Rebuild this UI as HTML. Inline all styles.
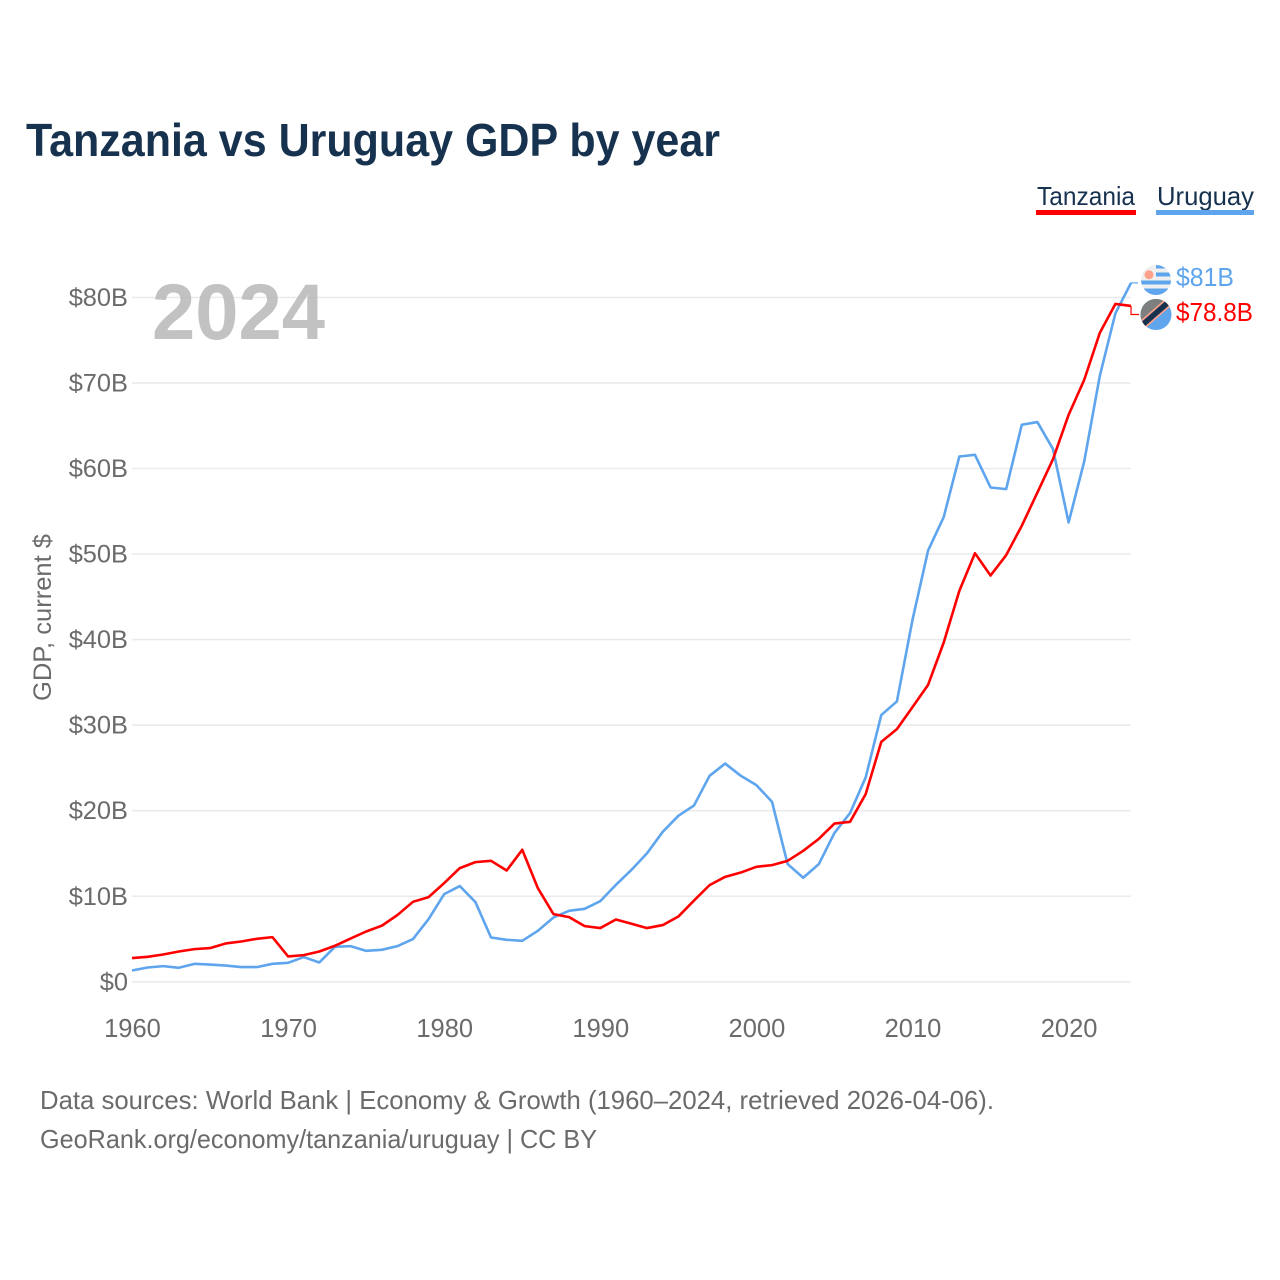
<!DOCTYPE html>
<html lang="en">
<head>
<meta charset="utf-8">
<title>Tanzania vs Uruguay GDP by year</title>
<style>
  html, body { margin: 0; padding: 0; background: #fff; }
  #chart { display: block; width: 1280px; height: 1280px; font-family: "Liberation Sans", sans-serif; }
</style>
</head>
<body>
<svg id="chart" xmlns="http://www.w3.org/2000/svg" width="1280" height="1280" viewBox="0 0 1280 1280">
  <defs>
    <clipPath id="clip-uy"><circle cx="1156" cy="280" r="15"/></clipPath>
    <clipPath id="clip-tz"><circle cx="1156" cy="314.5" r="15.5"/></clipPath>
  </defs>
  <rect x="0" y="0" width="1280" height="1280" fill="#ffffff"/>
  <text x="26" y="156" font-size="46" font-weight="700" fill="#17324f" textLength="694" lengthAdjust="spacingAndGlyphs">Tanzania vs Uruguay GDP by year</text>

  <g>
    <g>
      <text x="1037" y="205" font-size="26" fill="#17324f" textLength="98" lengthAdjust="spacingAndGlyphs">Tanzania</text>
      <rect x="1036" y="210" width="100" height="5" fill="#ff0000"/>
    </g>
    <g>
      <text x="1157" y="205" font-size="26" fill="#17324f" textLength="97" lengthAdjust="spacingAndGlyphs">Uruguay</text>
      <rect x="1156" y="210" width="98" height="5" fill="#5ea5ee"/>
    </g>
  </g>

  <g id="grid"></g>
  <text x="152" y="339" font-size="79" font-weight="700" fill="#b4b4b4" fill-opacity="0.82" textLength="173" lengthAdjust="spacingAndGlyphs">2024</text>
  <g id="y-axis"></g>
  <g id="x-axis"></g>
  <text transform="translate(51,701) rotate(-90)" x="0" y="0" font-size="25" fill="#6b6b6b" textLength="167" lengthAdjust="spacingAndGlyphs">GDP, current $</text>
  <g id="series"></g>

  <g clip-path="url(#clip-uy)">
    <rect x="1140" y="264" width="32" height="32" fill="#efefef"/>
    <rect x="1156" y="265" width="16" height="3.5" fill="#5ea5ee"/>
    <rect x="1156" y="272.5" width="16" height="4" fill="#5ea5ee"/>
    <rect x="1140" y="280.5" width="32" height="4" fill="#5ea5ee"/>
    <rect x="1140" y="288.5" width="32" height="7.5" fill="#5ea5ee"/>
    <circle cx="1149" cy="274.8" r="4.5" fill="#ffa08c"/>
  </g>
  <g clip-path="url(#clip-tz)">
    <rect x="1140" y="298" width="32" height="33" fill="#5ea5ee"/>
    <polygon points="1136,330.4 1176,295.6 1176,290 1136,290" fill="#7c7f7d"/>
    <line x1="1136" y1="330.4" x2="1176" y2="295.6" stroke="#ffa08c" stroke-width="9"/>
    <line x1="1136" y1="330.4" x2="1176" y2="295.6" stroke="#17324f" stroke-width="5.6"/>
  </g>

  <text x="1176" y="286" font-size="25.5" fill="#5ea5ee" textLength="58" lengthAdjust="spacingAndGlyphs">$81B</text>
  <text x="1176" y="321" font-size="25.5" fill="#ff0000" textLength="77" lengthAdjust="spacingAndGlyphs">$78.8B</text>

  <text x="40" y="1109" font-size="26" fill="#6b6b6b" textLength="954" lengthAdjust="spacingAndGlyphs">Data sources: World Bank | Economy &amp; Growth (1960–2024, retrieved 2026-04-06).</text>
  <text x="40" y="1148" font-size="26" fill="#6b6b6b" textLength="557" lengthAdjust="spacingAndGlyphs">GeoRank.org/economy/tanzania/uruguay | CC BY</text>
</svg>

<script>
const startYear = 1960;
const tanzaniaGdp = [
  2.77, 2.92, 3.19, 3.54, 3.82, 3.94, 4.48, 4.71, 5.03, 5.22,
  2.96, 3.12, 3.54, 4.21, 5.06, 5.88, 6.55, 7.8, 9.35, 9.9,
  11.54, 13.29, 13.99, 14.14, 13.01, 15.43, 10.95, 7.91, 7.56, 6.51,
  6.28, 7.28, 6.78, 6.28, 6.63, 7.63, 9.5, 11.3, 12.27, 12.77,
  13.44, 13.64, 14.14, 15.31, 16.71, 18.5, 18.7, 21.94, 28.05, 29.53,
  32.1, 34.71, 39.66, 45.7, 50.1, 47.49, 49.87, 53.3, 57.19, 61.09,
  66.27, 70.36, 75.85, 79.24, 79.0
];
const uruguayGdp = [
  1.32, 1.67, 1.83, 1.64, 2.1, 2.02, 1.9, 1.72, 1.72, 2.1,
  2.22, 2.89, 2.26, 4.09, 4.17, 3.62, 3.74, 4.17, 4.99, 7.33,
  10.25, 11.19, 9.32, 5.18, 4.91, 4.79, 5.96, 7.52, 8.3, 8.53,
  9.43, 11.34, 13.09, 15.04, 17.53, 19.4, 20.6, 24.08, 25.51, 24.08,
  22.99, 21.04, 13.76, 12.16, 13.76, 17.4, 19.73, 23.89, 31.18, 32.77,
  42.31, 50.42, 54.32, 61.4, 61.6, 57.78, 57.59, 65.11, 65.43, 62.27,
  53.69, 60.82, 70.83, 78.15, 81.7
];
const yTicks = [0, 10, 20, 30, 40, 50, 60, 70, 80];
const yTickLabels = ["$0", "$10B", "$20B", "$30B", "$40B", "$50B", "$60B", "$70B", "$80B"];
const xTicks = [1960, 1970, 1980, 1990, 2000, 2010, 2020];
const xTickLabels = ["1960", "1970", "1980", "1990", "2000", "2010", "2020"];

const NS = "http://www.w3.org/2000/svg";
function xScale(year) { return 132 + (year - 1960) * 15.61; }
function yScale(value) { return 981.8 - value * 8.555; }
function make(tag, attrs, parent) {
  const el = document.createElementNS(NS, tag);
  for (const k in attrs) el.setAttribute(k, attrs[k]);
  parent.appendChild(el);
  return el;
}

const gridGroup = document.getElementById("grid");
const yAxisGroup = document.getElementById("y-axis");
const xAxisGroup = document.getElementById("x-axis");
const seriesGroup = document.getElementById("series");

yTicks.forEach(function (tick, i) {
  const line = make("line", { x1: 132, x2: 1131, y1: yScale(tick), y2: yScale(tick), stroke: "#ebebeb", "stroke-width": 1.6 }, gridGroup);
  
  
  const label = make("text", { x: 128, y: yScale(tick) + 8.5, "text-anchor": "end", "font-size": 25.4, fill: "#6b6b6b" }, yAxisGroup);
  
  
  label.textContent = yTickLabels[i];
});

xTicks.forEach(function (tick, i) {
  const label = make("text", { x: xScale(tick) + 0.5, y: 1037, "text-anchor": "middle", "font-size": 25.5, fill: "#6b6b6b" }, xAxisGroup);
  
  
  label.textContent = xTickLabels[i];
});

function pointsFor(values) {
  return values.map(function (v, i) {
    return xScale(startYear + i).toFixed(2) + "," + yScale(v).toFixed(2);
  }).join(" ");
}

const uruguayLine = make("polyline", { points: pointsFor(uruguayGdp), fill: "none", stroke: "#5ea5ee", "stroke-width": 2.6, "stroke-linejoin": "round" }, seriesGroup);



const tanzaniaLine = make("polyline", { points: pointsFor(tanzaniaGdp), fill: "none", stroke: "#ff0000", "stroke-width": 2.6, "stroke-linejoin": "round" }, seriesGroup);



const lastYear = startYear + tanzaniaGdp.length - 1;
const endX = xScale(lastYear);
const uruguayConnector = make("polyline", { points: endX + "," + yScale(uruguayGdp[uruguayGdp.length - 1]) + " " + (endX + 7) + "," + yScale(uruguayGdp[uruguayGdp.length - 1]), fill: "none", stroke: "#5ea5ee", "stroke-width": 1.2 }, seriesGroup);



const tanzaniaConnector = make("polyline", { points: endX + "," + yScale(tanzaniaGdp[tanzaniaGdp.length - 1]) + " " + endX + ",314.5 " + (endX + 8) + ",314.5", fill: "none", stroke: "#ff0000", "stroke-width": 1.2 }, seriesGroup);


</script>
</body>
</html>
